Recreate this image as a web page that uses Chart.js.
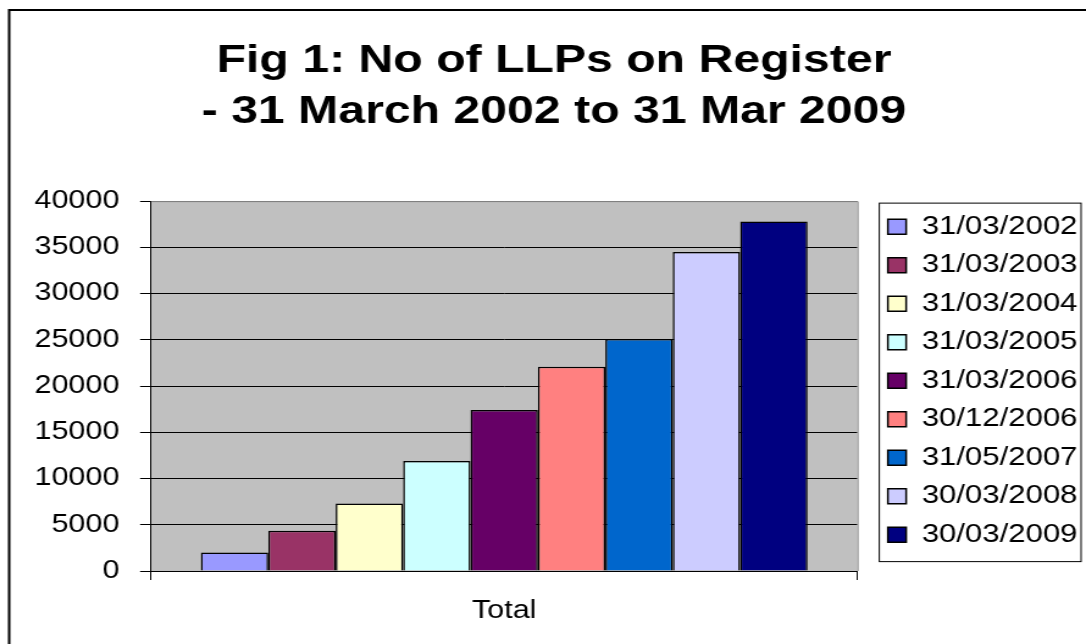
<!DOCTYPE html>
<html>
<head>
<meta charset="utf-8">
<script src="https://cdn.jsdelivr.net/npm/chart.js@4"></script>
<style>
  html, body { margin: 0; padding: 0; overflow: hidden; background: #fff; }
  #wrap { width: 910px; height: 644px; transform: scaleX(1.2202); transform-origin: 0 0; }
</style>
</head>
<body>
<div id="wrap"><canvas id="myChart" width="910" height="644"></canvas></div>
<script>
const categories = ['Total'];
const seriesNames = ['31/03/2002', '31/03/2003', '31/03/2004', '31/03/2005', '31/03/2006',
                     '30/12/2006', '31/05/2007', '30/03/2008', '30/03/2009'];
const seriesValues = [2000, 4350, 7300, 11900, 17400, 22100, 25100, 34500, 37800];
const seriesColors = ['#9999FF', '#993366', '#FFFFCC', '#CCFFFF', '#660066',
                      '#FF8080', '#0066CC', '#CCCCFF', '#000080'];
const titleLines = ['Fig 1: No of LLPs on Register', '- 31 March 2002 to 31 Mar 2009'];

const FONT = "'Liberation Sans', Arial, sans-serif";

// excel-ish grey plot area, outer frame and legend frame
const excelLook = {
    id: 'excelLook',
    beforeDraw(chart) {
        const {ctx, chartArea: a} = chart;
        ctx.save();
        ctx.fillStyle = '#C0C0C0';
        ctx.fillRect(a.left, a.top, a.right - a.left, a.bottom - a.top);
        ctx.restore();
    },
    beforeDatasetsDraw(chart) {
        const {ctx, chartArea: a} = chart;
        ctx.save();
        ctx.strokeStyle = '#808080';
        ctx.lineWidth = 1;
        ctx.beginPath();
        ctx.moveTo(a.left, a.top + 0.5);
        ctx.lineTo(a.right + 0.5, a.top + 0.5);
        ctx.lineTo(a.right + 0.5, a.bottom);
        ctx.stroke();
        ctx.restore();
    },
    afterDraw(chart) {
        const {ctx} = chart;
        ctx.save();
        ctx.strokeStyle = '#000';
        ctx.lineWidth = 2;
        ctx.strokeRect(7.5, 10, chart.width + 20, chart.height + 20);

        const boxes = chart.legend.legendHitBoxes;
        if (boxes && boxes.length) {
            const first = boxes[0], last = boxes[boxes.length - 1];
            const x0 = first.left - 7;
            const x1 = first.left + first.width + 3;
            const y0 = first.top - 11;
            const y1 = last.top + last.height + 14;
            ctx.lineWidth = 1;
            ctx.strokeStyle = '#000';
            ctx.strokeRect(x0, y0, x1 - x0, y1 - y0);
        }
        ctx.restore();
    }
};

new Chart(document.getElementById('myChart').getContext('2d'), {
    type: 'bar',
    data: {
        labels: categories,
        datasets: seriesNames.map((name, i) => ({
            label: name,
            data: [seriesValues[i]],
            backgroundColor: seriesColors[i],
            borderColor: '#000',
            borderWidth: 1.5,
            categoryPercentage: 0.859,
            barPercentage: 1.0
        }))
    },
    options: {
        responsive: false,
        animation: false,
        layout: {
            padding: {left: 15, right: 17, top: 0, bottom: 2}
        },
        plugins: {
            tooltip: {enabled: false},
            title: {
                display: true,
                text: titleLines,
                color: '#000',
                font: {family: FONT, size: 39.5, weight: 'bold', lineHeight: 1.28},
                padding: {top: 36, bottom: 64}
            },
            legend: {
                position: 'right',
                align: 'start',
                fullSize: false,
                maxWidth: 200,
                labels: {
                    color: '#000',
                    font: {family: FONT, size: 25.5},
                    boxWidth: 15,
                    boxHeight: 15,
                    padding: 13
                }
            }
        },
        scales: {
            x: {
                grid: {
                    display: true,
                    drawOnChartArea: false,
                    drawTicks: true,
                    tickLength: 9,
                    color: '#000',
                    offset: true
                },
                border: {display: true, color: '#000', width: 1},
                ticks: {color: '#000', font: {family: FONT, size: 25}, padding: 16}
            },
            y: {
                min: 0,
                max: 40000,
                afterFit(scale) { scale.width = 108.8; },
                grid: {
                    color: (c) => (c.tick && c.tick.value === 40000) ? '#808080' : '#000',
                    tickColor: '#000',
                    lineWidth: 1,
                    tickLength: 9
                },
                border: {display: true, color: '#000', width: 1},
                ticks: {
                    stepSize: 5000,
                    color: '#000',
                    padding: 17,
                    font: {family: FONT, size: 25},
                    callback: (v) => String(v)
                }
            },
            gap: {
                type: 'linear',
                position: 'right',
                display: true,
                afterFit(scale) { scale.width = 12; },
                grid: {display: false, drawTicks: false},
                border: {display: false},
                ticks: {display: false}
            }
        }
    },
    plugins: [excelLook]
});
</script>
</body>
</html>
